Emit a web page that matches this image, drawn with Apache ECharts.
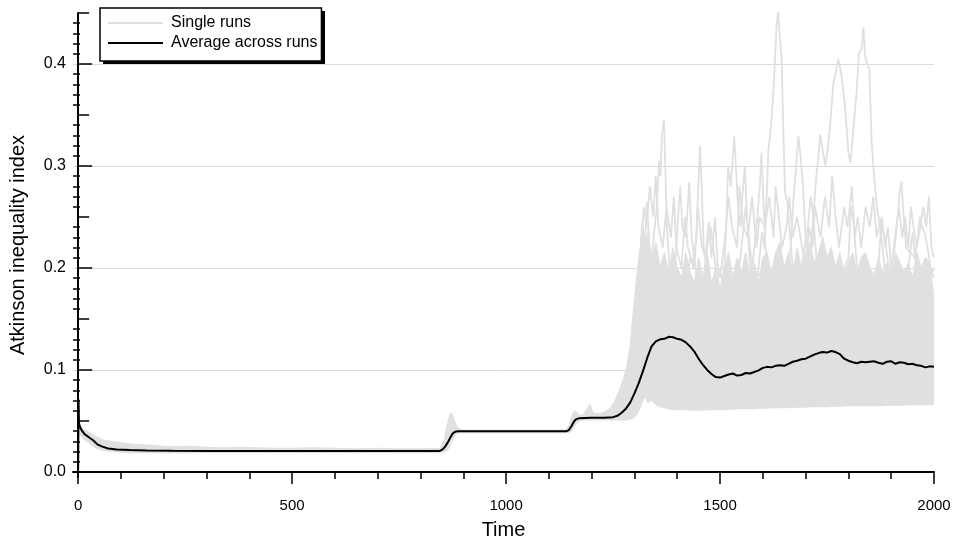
<!DOCTYPE html>
<html>
<head>
<meta charset="utf-8">
<title>Atkinson inequality index over time</title>
<script src="https://cdn.jsdelivr.net/npm/echarts@6/dist/echarts.min.js"></script>
<style>
  html, body { margin: 0; padding: 0; background: #fff; }
  #chart { width: 957px; height: 545px; }
</style>
</head>
<body>
<div id="chart"></div>
<script>
// ---- Average across runs ----
const avgT = [0, 1, 2, 4, 8, 15, 25, 35, 45, 55, 70, 90, 120, 160, 220, 300, 400, 500, 600, 700, 800,
  845, 852, 858, 864, 870, 876, 882, 890, 950, 1000, 1050, 1100, 1140, 1147, 1153, 1158, 1163, 1170,
  1200, 1230, 1250, 1260, 1270, 1280, 1290, 1300, 1310, 1320, 1330, 1340, 1350, 1360, 1370, 1380,
  1390, 1400, 1410, 1420, 1430, 1440, 1450, 1460, 1470, 1480, 1490, 1500, 1510, 1520, 1530, 1540,
  1550, 1560, 1570, 1580, 1590, 1600, 1610, 1620, 1630, 1640, 1650, 1660, 1670, 1680, 1690, 1700,
  1710, 1720, 1730, 1740, 1750, 1760, 1770, 1780, 1790, 1800, 1810, 1820, 1830, 1840, 1850, 1860,
  1870, 1880, 1890, 1900, 1910, 1920, 1930, 1940, 1950, 1960, 1970, 1980, 1990, 2000];
const avgV = [0.0, 0.071, 0.048, 0.0445, 0.041, 0.037, 0.034, 0.031, 0.027, 0.025, 0.023, 0.022, 0.0214,
  0.021, 0.0207, 0.0205, 0.0205, 0.0204, 0.0204, 0.0204, 0.0204,
  0.0206, 0.022, 0.025, 0.029, 0.034, 0.038, 0.0395, 0.0398, 0.0398, 0.0398, 0.0398, 0.0398, 0.0398,
  0.041, 0.045, 0.049, 0.0515, 0.0525,
  0.053, 0.0532, 0.0537, 0.055, 0.058, 0.062, 0.068, 0.077, 0.087, 0.099, 0.112, 0.123, 0.128, 0.130,
  0.1305, 0.1325, 0.132, 0.1305, 0.1295, 0.127, 0.123, 0.118, 0.111, 0.105, 0.100, 0.096, 0.093,
  0.0925, 0.094, 0.0955, 0.0965, 0.0945, 0.095, 0.097, 0.0965, 0.098, 0.0995, 0.102, 0.103, 0.1025,
  0.104, 0.1045, 0.104, 0.106, 0.108, 0.109, 0.1105, 0.111, 0.113, 0.115, 0.1165, 0.1175, 0.117,
  0.1185, 0.1175, 0.1155, 0.111, 0.109, 0.1075, 0.1065, 0.108, 0.1075, 0.108, 0.1085, 0.107, 0.106,
  0.108, 0.1085, 0.106, 0.1075, 0.107, 0.1055, 0.106, 0.1045, 0.104, 0.1025, 0.1035, 0.103];

// ---- Spread of the single runs: lower and upper envelope ----
const bandT = [2, 6, 10, 15, 20, 30, 40, 50, 60, 75, 90, 110, 130, 150, 175, 200, 230, 260, 300, 340,
  380, 420, 460, 500, 550, 600, 650, 700, 750, 800, 845, 855, 862, 868, 872, 876, 880, 885, 892, 900,
  1000, 1140, 1148, 1155, 1160, 1165, 1170, 1178, 1190, 1196, 1203, 1220, 1235, 1245, 1255, 1265,
  1275, 1282, 1290, 1297, 1305, 1312, 1320, 1325, 1332, 1340, 1350, 1360, 1370, 1380, 1390, 1400,
  1410, 1420, 1430, 1440, 1450, 1460, 1470, 1480, 1490, 1500, 1510, 1520, 1530, 1540, 1550, 1560,
  1570, 1580, 1590, 1600, 1610, 1620, 1630, 1640, 1650, 1660, 1670, 1680, 1690, 1700, 1710, 1720,
  1730, 1740, 1750, 1760, 1770, 1780, 1790, 1800, 1810, 1820, 1830, 1840, 1850, 1860, 1870, 1880,
  1890, 1900, 1910, 1920, 1930, 1940, 1950, 1960, 1970, 1980, 1990, 2000];
const bandLow = [0.038, 0.036, 0.034, 0.032, 0.030, 0.027, 0.024, 0.022, 0.021, 0.020, 0.0195, 0.019,
  0.019, 0.019, 0.019, 0.019, 0.019, 0.019, 0.019, 0.019, 0.019, 0.019, 0.019, 0.019, 0.019, 0.019,
  0.019, 0.019, 0.019, 0.019, 0.019, 0.0195, 0.021, 0.025, 0.029, 0.033, 0.036, 0.038, 0.0385, 0.0385,
  0.0385, 0.0385, 0.039, 0.041, 0.045, 0.048, 0.050, 0.051, 0.051, 0.051, 0.051, 0.051, 0.051, 0.051,
  0.051, 0.051, 0.051, 0.051, 0.052, 0.053, 0.056, 0.062, 0.071, 0.074, 0.068, 0.071, 0.066, 0.064,
  0.063, 0.062, 0.061, 0.061, 0.061, 0.061, 0.0605, 0.0605, 0.0605, 0.0605, 0.061, 0.061, 0.061,
  0.061, 0.061, 0.0615, 0.0615, 0.062, 0.062, 0.062, 0.062, 0.062, 0.0625, 0.0625, 0.0625, 0.063,
  0.063, 0.063, 0.063, 0.063, 0.0635, 0.0635, 0.0635, 0.0635, 0.064, 0.064, 0.064, 0.064, 0.064,
  0.0645, 0.0645, 0.0645, 0.0645, 0.065, 0.065, 0.065, 0.065, 0.065, 0.065, 0.065, 0.065, 0.065,
  0.0655, 0.0655, 0.0655, 0.0655, 0.0655, 0.066, 0.066, 0.066, 0.066, 0.066, 0.066, 0.066];
const bandHigh = [0.047, 0.045, 0.043, 0.041, 0.040, 0.038, 0.035, 0.033, 0.031, 0.030, 0.029, 0.028,
  0.027, 0.0265, 0.026, 0.025, 0.0245, 0.025, 0.024, 0.0235, 0.024, 0.0235, 0.023, 0.023, 0.0235, 0.023,
  0.0225, 0.023, 0.0225, 0.0225, 0.023, 0.030, 0.045, 0.055, 0.058, 0.054, 0.049, 0.044, 0.042, 0.041,
  0.041, 0.041, 0.046, 0.056, 0.060, 0.058, 0.056, 0.055, 0.062, 0.066, 0.058, 0.057, 0.060, 0.063,
  0.070, 0.080, 0.092, 0.103, 0.123, 0.156, 0.190,
  0.215, 0.240, 0.225, 0.235, 0.205, 0.225, 0.200, 0.215, 0.195, 0.220, 0.200, 0.190, 0.215, 0.195,
  0.185, 0.210, 0.190, 0.215, 0.185, 0.200, 0.180, 0.200, 0.215, 0.190, 0.210, 0.195, 0.215, 0.190,
  0.205, 0.185, 0.210, 0.215, 0.195, 0.215, 0.225, 0.200, 0.215, 0.195, 0.220, 0.200, 0.215, 0.225,
  0.205, 0.215, 0.230, 0.210, 0.220, 0.200, 0.215, 0.195, 0.205, 0.215, 0.195, 0.210, 0.215, 0.200,
  0.190, 0.210, 0.195, 0.205, 0.190, 0.215, 0.205, 0.195, 0.205, 0.190, 0.215, 0.200, 0.210, 0.205,
  0.170];

// ---- Individual runs that rise above the bulk ----
const runA_t = [1580, 1590, 1598, 1604, 1609, 1613, 1617, 1621, 1626, 1632, 1636, 1640, 1644, 1648, 1652, 1658, 1664, 1670, 1680];
const runA_v = [0.17, 0.20, 0.235, 0.22, 0.27, 0.316, 0.33, 0.349, 0.382, 0.437, 0.452, 0.424, 0.405, 0.333, 0.274, 0.262, 0.23, 0.20, 0.17];

const runB_t = [1700, 1710, 1718, 1725, 1730, 1734, 1740, 1746, 1751, 1757, 1765, 1770, 1776, 1780, 1784, 1792, 1800, 1805,
  1811, 1819, 1825, 1831, 1835, 1839, 1843, 1849, 1854, 1860, 1866, 1874, 1882, 1890];
const runB_v = [0.18, 0.21, 0.25, 0.29, 0.31, 0.331, 0.315, 0.30, 0.315, 0.339, 0.382, 0.39, 0.405, 0.398, 0.388, 0.359, 0.313, 0.303,
  0.333, 0.372, 0.411, 0.415, 0.436, 0.408, 0.401, 0.395, 0.326, 0.29, 0.261, 0.241, 0.21, 0.18];

const runC_t = [1330, 1338, 1345, 1352, 1358, 1361, 1364, 1369, 1372, 1376, 1382, 1390];
const runC_v = [0.17, 0.20, 0.23, 0.26, 0.305, 0.29, 0.33, 0.345, 0.30, 0.24, 0.20, 0.17];

const runD_t = [1420, 1430, 1438, 1445, 1450, 1453, 1457, 1462, 1470, 1480];
const runD_v = [0.18, 0.21, 0.20, 0.234, 0.29, 0.32, 0.28, 0.22, 0.20, 0.17];

const runE_t = [1500, 1510, 1515, 1519, 1525, 1530, 1533, 1537, 1542, 1548, 1552, 1558, 1563, 1570, 1580];
const runE_v = [0.17, 0.20, 0.25, 0.30, 0.28, 0.31, 0.329, 0.30, 0.26, 0.24, 0.27, 0.30, 0.25, 0.20, 0.17];

const runF_t = [1570, 1580, 1587, 1593, 1597, 1601, 1606, 1615];
const runF_v = [0.18, 0.22, 0.25, 0.28, 0.313, 0.27, 0.22, 0.18];

const runG_t = [1655, 1665, 1672, 1678, 1683, 1688, 1694, 1700, 1710];
const runG_v = [0.18, 0.22, 0.27, 0.30, 0.329, 0.31, 0.28, 0.23, 0.19];

const runH_t = [1890, 1900, 1908, 1915, 1920, 1924, 1929, 1935, 1945, 1955, 1962, 1967, 1972, 1978, 1985, 1992, 2000];
const runH_v = [0.17, 0.20, 0.22, 0.25, 0.275, 0.285, 0.25, 0.22, 0.215, 0.21, 0.23, 0.25, 0.24, 0.235, 0.22, 0.20, 0.19];

const runI_t = [1305, 1312, 1318, 1323, 1329, 1335, 1345, 1360, 1380, 1395, 1402, 1407, 1412, 1420, 1428, 1434, 1442, 1455];
const runI_v = [0.15, 0.20, 0.245, 0.21, 0.265, 0.22, 0.19, 0.17, 0.18, 0.20, 0.25, 0.28, 0.24, 0.23, 0.284, 0.23, 0.20, 0.17];

const runJ_t = [1460, 1468, 1474, 1480, 1488, 1495, 1505, 1520, 1545, 1560, 1575, 1600, 1640, 1690, 1705, 1712, 1718, 1725,
  1740, 1780, 1800, 1806, 1812, 1820, 1850, 1870, 1877, 1884, 1895, 1905, 1940, 1950, 1958, 1990, 2000];
const runJ_v = [0.17, 0.22, 0.245, 0.21, 0.25, 0.20, 0.19, 0.18, 0.20, 0.26, 0.20, 0.19, 0.20, 0.20, 0.24, 0.27, 0.25, 0.21,
  0.20, 0.19, 0.21, 0.26, 0.245, 0.20, 0.19, 0.20, 0.245, 0.23, 0.20, 0.19, 0.20, 0.235, 0.20, 0.19, 0.20];

const runK_t = [1300, 1308, 1315, 1322, 1328, 1336, 1344, 1350, 1356, 1366, 1375, 1385, 1392, 1398, 1410, 1418, 1425, 1440, 1448,
  1458, 1466, 1478, 1490, 1500];
const runK_v = [0.12, 0.18, 0.22, 0.26, 0.24, 0.28, 0.25, 0.29, 0.24, 0.22, 0.26, 0.23, 0.27, 0.22, 0.20, 0.25, 0.22, 0.20, 0.26,
  0.22, 0.21, 0.24, 0.20, 0.19];

const runL_t = [1500, 1512, 1520, 1528, 1540, 1545, 1555, 1565, 1575, 1585, 1592, 1605, 1615, 1625, 1630, 1645, 1655, 1662, 1670,
  1680, 1692, 1700];
const runL_v = [0.19, 0.23, 0.27, 0.24, 0.22, 0.28, 0.24, 0.23, 0.27, 0.22, 0.25, 0.24, 0.27, 0.23, 0.28, 0.22, 0.24, 0.27, 0.23,
  0.25, 0.22, 0.20];

const runM_t = [1700, 1708, 1716, 1722, 1735, 1745, 1755, 1762, 1770, 1778, 1790, 1798, 1808, 1815, 1822, 1830, 1840, 1850, 1858,
  1866, 1878, 1886, 1892, 1900];
const runM_v = [0.20, 0.24, 0.22, 0.26, 0.23, 0.27, 0.24, 0.29, 0.25, 0.22, 0.26, 0.24, 0.28, 0.23, 0.25, 0.22, 0.26, 0.24, 0.27,
  0.23, 0.25, 0.22, 0.24, 0.20];

const runN_t = [1900, 1912, 1918, 1926, 1932, 1940, 1946, 1952, 1960, 1975, 1982, 1988, 1994, 2000];
const runN_v = [0.20, 0.24, 0.26, 0.23, 0.25, 0.22, 0.26, 0.24, 0.22, 0.26, 0.24, 0.27, 0.22, 0.21];

// ---- Axis ticks and labels ----
const xMajor = [0, 500, 1000, 1500, 2000];
const xMinor = [100, 200, 300, 400, 600, 700, 800, 900, 1100, 1200, 1300, 1400, 1600, 1700, 1800, 1900];
const yMajor = [0, 0.1, 0.2, 0.3, 0.4];
const yMajorLabels = ['0.0', '0.1', '0.2', '0.3', '0.4'];
const yMid = [0.05, 0.15, 0.25, 0.35, 0.45];
const yMinor = [];
for (let i = 1; i < 45; i++) if (i % 5 !== 0) yMinor.push(i / 100);

const X_MIN = -12, X_MAX = 2000;
const Y_MIN = -0.005, Y_MAX = 0.45;
const GRAY = '#e0e0e0';
const FONT = '"Liberation Sans", Arial, Helvetica, sans-serif';

const zip = (t, v) => t.map((x, i) => [x, v[i]]);

const runs = [
  [runA_t, runA_v], [runB_t, runB_v], [runC_t, runC_v], [runD_t, runD_v], [runE_t, runE_v],
  [runF_t, runF_v], [runG_t, runG_v], [runH_t, runH_v], [runI_t, runI_v], [runJ_t, runJ_v],
  [runK_t, runK_v], [runL_t, runL_v], [runM_t, runM_v], [runN_t, runN_v]
];

const series = [
  {
    // Envelope of all single runs, filled as one polygon through the axis scales
    name: 'Single runs', type: 'custom', silent: true, z: 2, clip: true,
    itemStyle: { color: GRAY },
    data: [[bandT[0], bandLow[0]]],
    renderItem: (params, api) => {
      const pts = [];
      for (let i = 0; i < bandT.length; i++) pts.push(api.coord([bandT[i], bandHigh[i]]));
      for (let i = bandT.length - 1; i >= 0; i--) pts.push(api.coord([bandT[i], bandLow[i]]));
      return {
        type: 'polygon',
        shape: { points: pts },
        style: { fill: GRAY, stroke: GRAY, lineWidth: 1.2, lineJoin: 'round' }
      };
    }
  }
];
runs.forEach(([t, v]) => series.push({
  name: 'Single runs', type: 'line', symbol: 'none', silent: true,
  data: zip(t, v),
  itemStyle: { color: GRAY },
  lineStyle: { color: GRAY, width: 1.8 }, z: 3
}));
series.push({
  name: 'Average across runs', type: 'line', symbol: 'none', silent: true,
  data: zip(avgT, avgV),
  itemStyle: { color: '#000' },
  lineStyle: { color: '#000', width: 2 }, z: 5
});

const yBase = {
  type: 'value', min: Y_MIN, max: Y_MAX, position: 'left', offset: 0,
  axisLine: { show: false },
  axisLabel: { show: false },
  splitLine: { show: false }
};
const xBase = {
  type: 'value', min: X_MIN, max: X_MAX, position: 'bottom', offset: 0,
  axisLine: { show: false },
  axisLabel: { show: false },
  splitLine: { show: false }
};

// legend frame geometry (drop shadow sits behind the legend box)
const LEG_LEFT = 100, LEG_TOP = 8, LEG_W = 222, LEG_H = 53;

const chart = echarts.init(document.getElementById('chart'), null, { renderer: 'canvas' });
chart.setOption({
  animation: false,
  backgroundColor: '#fff',
  textStyle: { fontFamily: FONT },
  grid: { left: 73, right: 23, top: 13, bottom: 68, containLabel: false },
  graphic: [{
    type: 'rect', z: 3, silent: true,
    shape: { x: LEG_LEFT + 3, y: LEG_TOP + 3, width: LEG_W, height: LEG_H },
    style: { fill: '#000' }
  }],
  legend: {
    orient: 'vertical', left: LEG_LEFT, top: LEG_TOP, z: 4,
    selectedMode: false,
    icon: 'rect',
    data: [
      { name: 'Single runs', itemStyle: { color: GRAY } },
      { name: 'Average across runs', itemStyle: { color: '#000' } }
    ],
    itemWidth: 55, itemHeight: 2, itemGap: 0,
    padding: [5, 4, 8, 8],
    backgroundColor: '#fff', borderColor: '#000', borderWidth: 1.5, borderRadius: 0,
    textStyle: { fontFamily: FONT, fontSize: 16, color: '#000', lineHeight: 20, padding: [0, 0, 0, 3] }
  },
  xAxis: [
    Object.assign({}, xBase, {
      axisLine: { show: true, lineStyle: { color: '#000', width: 2 } },
      axisTick: { show: true, inside: false, length: 12, customValues: xMajor, lineStyle: { color: '#000', width: 1.5 } },
      axisLabel: {
        show: true, customValues: xMajor, margin: 21, fontSize: 15, color: '#000', fontFamily: FONT,
        formatter: (v) => String(Math.round(v))
      },
      name: 'Time', nameLocation: 'middle', nameGap: 43,
      nameTextStyle: { fontSize: 20, color: '#000', fontFamily: FONT }
    }),
    Object.assign({}, xBase, {
      axisTick: { show: true, inside: false, length: 7, customValues: xMinor, lineStyle: { color: '#000', width: 1.5 } }
    })
  ],
  yAxis: [
    Object.assign({}, yBase, {
      axisLine: { show: true, lineStyle: { color: '#000', width: 2 } },
      axisTick: { show: true, inside: true, length: 14, customValues: yMajor, lineStyle: { color: '#000', width: 1.5 } },
      axisLabel: {
        show: true, customValues: yMajor, margin: 7, fontSize: 16, color: '#000', fontFamily: FONT,
        formatter: (v) => yMajorLabels[yMajor.findIndex(m => Math.abs(m - v) < 1e-9)] ?? v.toFixed(1)
      },
      splitLine: { show: true, lineStyle: { color: '#d9d9d9', width: 1 } },
      name: 'Atkinson inequality index', nameLocation: 'middle', nameGap: 45,
      nameTextStyle: { fontSize: 20, color: '#000', fontFamily: FONT }
    }),
    Object.assign({}, yBase, {
      axisTick: { show: true, inside: true, length: 11, customValues: yMid, lineStyle: { color: '#000', width: 1.5 } }
    }),
    Object.assign({}, yBase, {
      axisTick: { show: true, inside: true, length: 7, customValues: yMinor, lineStyle: { color: '#000', width: 1.5 } }
    })
  ],
  series: series
});
</script>
</body>
</html>
